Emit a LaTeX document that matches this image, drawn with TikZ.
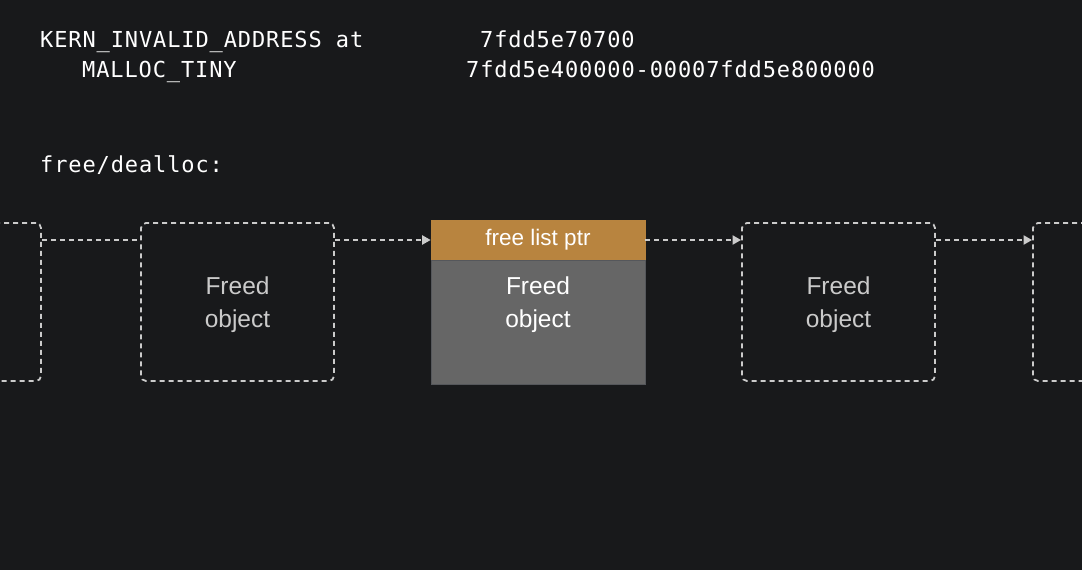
\documentclass[tikz,border=0pt]{standalone}
\usepackage{fontspec}
\usetikzlibrary{arrows.meta}
\newfontfamily\monofnt[LetterSpace=4]{DejaVu Sans Mono}
\newfontfamily\sansfnt{Liberation Sans}
\newcommand\us{\char"5F\relax}
\definecolor{bgc}{HTML}{18191B}
\definecolor{dashc}{HTML}{CBCBCB}
\definecolor{freedc}{HTML}{CACACA}
\definecolor{hdrc}{HTML}{B8843F}
\definecolor{bodyc}{HTML}{666666}
\definecolor{edgec}{HTML}{55575B}
\tikzset{
  codetxt/.style={text=white, font=\monofnt\fontsize{22}{26}\selectfont, inner sep=0pt, anchor=base west},
  freedbox/.style={draw=dashc, line width=1.8pt, dash pattern=on 5pt off 4pt, rounded corners=5pt,
     minimum width=193pt, minimum height=158pt},
  freedtxt/.style={text=freedc, align=center, font=\sansfnt\fontsize{24.5}{33}\selectfont},
  link/.style={draw=dashc, line width=2pt, dash pattern=on 5pt off 4pt},
  linkarrow/.style={link, -{Triangle[length=8.5pt,width=9pt]}},
}
\begin{document}
\begin{tikzpicture}[x=1pt,y=-1pt]
\useasboundingbox (0,0) rectangle (1082,570);
\fill[bgc] (0,0) rectangle (1082,570);
\clip (0,0) rectangle (1082,570);
\node[codetxt] (l1a) at (40,47) {KERN\us INVALID\us ADDRESS at};
\node[codetxt] (l1b) at (480,47) {7fdd5e70700};
\node[codetxt] (l2a) at (82,77) {MALLOC\us TINY};
\node[codetxt] (l2b) at (466,77) {7fdd5e400000-00007fdd5e800000};
\node[codetxt] (l3) at (40,172) {free/dealloc:};

\node[freedbox] (b1) at (-55.5,302) {};
\node[freedbox] (b2) at (237.5,302) {};
\node[freedbox] (b4) at (838.5,302) {};
\node[freedbox] (b5) at (1129.5,302) {};
\node[freedtxt] (b2txt) at (237.5,305) {Freed\\object};
\node[freedtxt] (b4txt) at (838.5,305) {Freed\\object};

\node[fill=hdrc, draw=hdrc, line width=0.6pt, minimum width=214pt, minimum height=40pt, inner sep=0pt,
      text=white, font=\sansfnt\fontsize{22.5}{26}\selectfont] (hdr) at (538,240) {free list ptr};
\node[fill=bodyc, draw=edgec, line width=0.8pt, minimum width=214pt, minimum height=124pt, inner sep=0pt,
      anchor=north] (body) at (hdr.south) {};
\node[freedtxt, text=white] (bodytxt) at (538,305) {Freed\\object};

\draw[link] (b1.east |- hdr.west) -- (b2.west |- hdr.west);
\draw[linkarrow] (b2.east |- hdr.west) -- (hdr.west);
\draw[linkarrow] (hdr.east) -- (b4.west |- hdr.east);
\draw[linkarrow] (b4.east |- hdr.east) -- (b5.west |- hdr.east);
\end{tikzpicture}
\end{document}
